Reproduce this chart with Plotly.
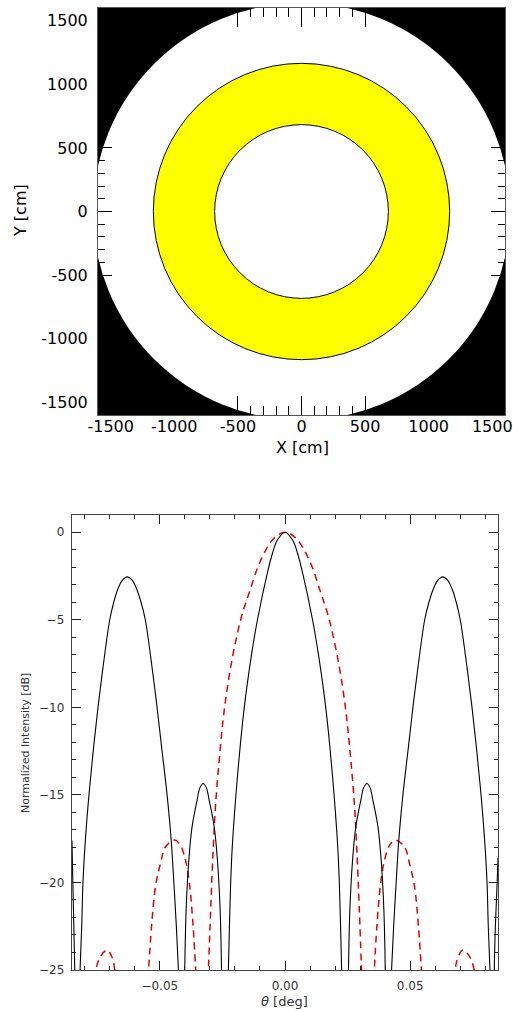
import plotly.graph_objects as go

# ---------------- data ----------------
# Top panel: aperture geometry (radii in cm)
aperture_outer_radius = [1640]          # white dish
annulus_radii = [683, 1165]             # yellow annulus inner / outer

top_ticks = [-1500, -1000, -500, 0, 500, 1000, 1500]
top_ticklabels = ["-1500", "-1000", "-500", "0", "500", "1000", "1500"]

# Bottom panel: normalized intensity (dB) versus theta (deg)
theta_black = [
    -0.0851, -0.0847, -0.0843, -0.0839, None,
    -0.0820, -0.0812, -0.0807, -0.0797, -0.0783, -0.0766, -0.0747, -0.0725, -0.0700, -0.0684,
    -0.0669, -0.0650, -0.0630, -0.0610, -0.0591, -0.0575, -0.0558, -0.0533, -0.0511, -0.0491,
    -0.0471, -0.0455, -0.0444, -0.0434, -0.0424, None,
    -0.0401, -0.0395, -0.0384, -0.0371, -0.0351, -0.0340, -0.0327, -0.0314, -0.0303, -0.0283,
    -0.0270, -0.0259, -0.0253, None,
    -0.0227, -0.0222, -0.0217, -0.0210, -0.0190, -0.0164, -0.0137, -0.0110, -0.0071, -0.0050,
    -0.0031, 0.0, 0.0031, 0.0050, 0.0071, 0.0110, 0.0137, 0.0164, 0.0190, 0.0210, 0.0217,
    0.0222, 0.0227, None,
    0.0253, 0.0259, 0.0270, 0.0283, 0.0303, 0.0314, 0.0327, 0.0340, 0.0351, 0.0371,
    0.0384, 0.0395, 0.0401, None,
    0.0424, 0.0434, 0.0444, 0.0455, 0.0471, 0.0491, 0.0511, 0.0533, 0.0558, 0.0575,
    0.0591, 0.0610, 0.0630, 0.0650, 0.0669, 0.0684, 0.0700, 0.0725, 0.0747, 0.0766,
    0.0783, 0.0797, 0.0807, 0.0812, 0.0820, None,
    0.0835, 0.0840, 0.0846, 0.0851,
]
db_black = [
    -17.6, -20.3, -22.8, -25.5, None,
    -25.5, -22.5, -20.0, -17.5, -15.0, -12.5, -10.0, -7.5, -5.0, -4.0,
    -3.3, -2.75, -2.55, -2.75, -3.3, -4.0, -5.0, -7.5, -10.0, -12.5,
    -15.0, -17.5, -20.0, -22.5, -25.5, None,
    -25.5, -21.6, -18.7, -16.8, -15.3, -14.6, -14.35, -14.6, -15.3, -16.8,
    -18.7, -21.6, -25.5, None,
    -25.5, -22.5, -20.0, -17.8, -13.97, -10.16, -7.3, -5.0, -2.36, -1.2,
    -0.46, 0.0, -0.46, -1.2, -2.36, -5.0, -7.3, -10.16, -13.97, -17.8, -20.0,
    -22.5, -25.5, None,
    -25.5, -21.6, -18.7, -16.8, -15.3, -14.6, -14.35, -14.6, -15.3, -16.8,
    -18.7, -21.6, -25.5, None,
    -25.5, -22.5, -20.0, -17.5, -15.0, -12.5, -10.0, -7.5, -5.0, -4.0,
    -3.3, -2.75, -2.55, -2.75, -3.3, -4.0, -5.0, -7.5, -10.0, -12.5,
    -15.0, -17.5, -20.0, -22.5, -25.5, None,
    -25.5, -22.6, -20.5, -18.6,
]

theta_red = [
    -0.0763, -0.0740, -0.0711, -0.0690, -0.0676, None,
    -0.0547, -0.0533, -0.0517, -0.0497, -0.0477, -0.0440, -0.0418, -0.0398, -0.0382, -0.0367,
    -0.0355, None,
    -0.0307, -0.0297, -0.0287, -0.0277, -0.0259, -0.0243, -0.0217, -0.0177, -0.0144, -0.0097,
    -0.0045, 0.0, 0.0045, 0.0097, 0.0144, 0.0177, 0.0217, 0.0243, 0.0259, 0.0277, 0.0287,
    0.0297, 0.0307, None,
    0.0355, 0.0367, 0.0382, 0.0398, 0.0418, 0.0440, 0.0477, 0.0497, 0.0517, 0.0533, 0.0547, None,
    0.0676, 0.0690, 0.0711, 0.0740, 0.0763,
]
db_red = [
    -25.5, -24.3, -23.86, -24.3, -25.5, None,
    -25.5, -22.5, -20.2, -18.9, -17.96, -17.58, -17.87, -18.7, -20.05, -22.5,
    -25.5, None,
    -25.5, -21.6, -18.15, -15.5, -12.4, -10.2, -7.7, -5.0, -3.5, -1.6,
    -0.36, 0.0, -0.36, -1.6, -3.5, -5.0, -7.7, -10.2, -12.4, -15.5, -18.15,
    -21.6, -25.5, None,
    -25.5, -22.5, -20.05, -18.7, -17.87, -17.58, -17.96, -18.9, -20.2, -22.5, -25.5, None,
    -25.5, -24.3, -23.86, -24.3, -25.5,
]

bottom_yticks = [0, -5, -10, -15, -20, -25]
bottom_yticklabels = ["0", "\u22125", "\u221210", "\u221215", "\u221220", "\u221225"]
bottom_xticks = [-0.05, 0.0, 0.05]
bottom_xticklabels = ["\u22120.05", "0.00", "0.05"]

# ---------------- figure ----------------
W, H = 527, 1012


def px_x(p):
    return p / W


def px_y(p):
    return 1 - p / H


fig = go.Figure()

fig.add_trace(go.Scatter(
    x=theta_red, y=db_red, mode="lines", xaxis="x2", yaxis="y2",
    line=dict(color="#e00000", width=1.5, dash="7px,5px", shape="spline", smoothing=1.0),
    connectgaps=False, showlegend=False, hoverinfo="skip",
))
fig.add_trace(go.Scatter(
    x=theta_black, y=db_black, mode="lines", xaxis="x2", yaxis="y2",
    line=dict(color="black", width=1.1, shape="spline", smoothing=1.0),
    connectgaps=False, showlegend=False, hoverinfo="skip",
))

# top panel shapes
shapes = [
    dict(type="rect", xref="x domain", yref="y domain", x0=0, x1=1, y0=0, y1=1,
         fillcolor="black", line=dict(width=0), layer="below"),
    dict(type="circle", xref="x", yref="y",
         x0=-aperture_outer_radius[0], x1=aperture_outer_radius[0],
         y0=-aperture_outer_radius[0], y1=aperture_outer_radius[0],
         fillcolor="white", line=dict(width=0), layer="below"),
    dict(type="circle", xref="x", yref="y",
         x0=-annulus_radii[1], x1=annulus_radii[1], y0=-annulus_radii[1], y1=annulus_radii[1],
         fillcolor="#ffff00", line=dict(color="black", width=1), layer="below"),
    dict(type="circle", xref="x", yref="y",
         x0=-annulus_radii[0], x1=annulus_radii[0], y0=-annulus_radii[0], y1=annulus_radii[0],
         fillcolor="white", line=dict(color="black", width=1), layer="below"),
]

top_font = dict(family="DejaVu Sans", size=16, color="black")
bot_font = dict(family="DejaVu Sans", size=12, color="#333333")

fig.update_layout(
    width=W, height=H, autosize=False,
    margin=dict(l=0, r=0, t=0, b=0),
    paper_bgcolor="white", plot_bgcolor="white",
    template="none",
    shapes=shapes,
    xaxis=dict(
        domain=[px_x(98), px_x(505)], anchor="y", range=[-1600, 1600],
        tickmode="array", tickvals=top_ticks, ticktext=top_ticklabels,
        ticks="inside", ticklen=19, tickwidth=1, tickcolor="black",
        minor=dict(dtick=100, tick0=0, ticks="inside", ticklen=9, tickwidth=1, tickcolor="black"),
        showline=True, linecolor="#555555", linewidth=1, mirror="ticks",
        showgrid=False, zeroline=False, tickfont=top_font, ticklabelstandoff=-3,
    ),
    yaxis=dict(
        domain=[px_y(415), px_y(8)], anchor="x", range=[-1600, 1600],
        tickmode="array", tickvals=top_ticks, ticktext=top_ticklabels,
        ticks="inside", ticklen=14, tickwidth=1, tickcolor="black",
        minor=dict(dtick=100, tick0=0, ticks="inside", ticklen=7, tickwidth=1, tickcolor="black"),
        showline=True, linecolor="#555555", linewidth=1, mirror="ticks",
        showgrid=False, zeroline=False, tickfont=top_font, ticklabelstandoff=6,
    ),
    xaxis2=dict(
        domain=[px_x(71.7), px_x(498.3)], anchor="y2", range=[-0.0852, 0.0852],
        tickmode="array", tickvals=bottom_xticks, ticktext=bottom_xticklabels,
        ticks="inside", ticklen=9, tickwidth=1, tickcolor="#222222",
        minor=dict(dtick=0.01, tick0=0, ticks="inside", ticklen=4, tickwidth=1, tickcolor="#222222"),
        showline=True, linecolor="#444444", linewidth=1, mirror="ticks",
        showgrid=False, zeroline=False, tickfont=bot_font, ticklabelstandoff=5,
    ),
    yaxis2=dict(
        domain=[px_y(970), px_y(514.7)], anchor="x2", range=[-25, 1],
        tickmode="array", tickvals=bottom_yticks, ticktext=bottom_yticklabels,
        ticks="inside", ticklen=9, tickwidth=1, tickcolor="#222222",
        minor=dict(dtick=1, tick0=0, ticks="inside", ticklen=4.5, tickwidth=1, tickcolor="#222222"),
        showline=True, linecolor="#444444", linewidth=1, mirror="ticks",
        showgrid=False, zeroline=False, tickfont=bot_font, ticklabelstandoff=4,
    ),
    annotations=[
        dict(text="Y [cm]", x=px_x(20), y=px_y(211), xref="paper", yref="paper",
             showarrow=False, textangle=-90, font=top_font, xanchor="center", yanchor="middle"),
        dict(text="X [cm]", x=px_x(302), y=px_y(447), xref="paper", yref="paper",
             showarrow=False, font=top_font, xanchor="center", yanchor="middle"),
        dict(text="Normalized Intensity [dB]", x=px_x(25), y=px_y(743), xref="paper", yref="paper",
             showarrow=False, textangle=-90, font=dict(family="DejaVu Sans", size=11, color="#333333"),
             xanchor="center", yanchor="middle"),
        dict(text="<i>\u03b8</i> [deg]", x=px_x(284), y=px_y(1001), xref="paper", yref="paper",
             showarrow=False, font=dict(family="DejaVu Sans", size=13, color="#333333"),
             xanchor="center", yanchor="middle"),
    ],
)

fig.write_html("out.html", config={"displayModeBar": False},
               post_script="document.body.style.margin='0';")
